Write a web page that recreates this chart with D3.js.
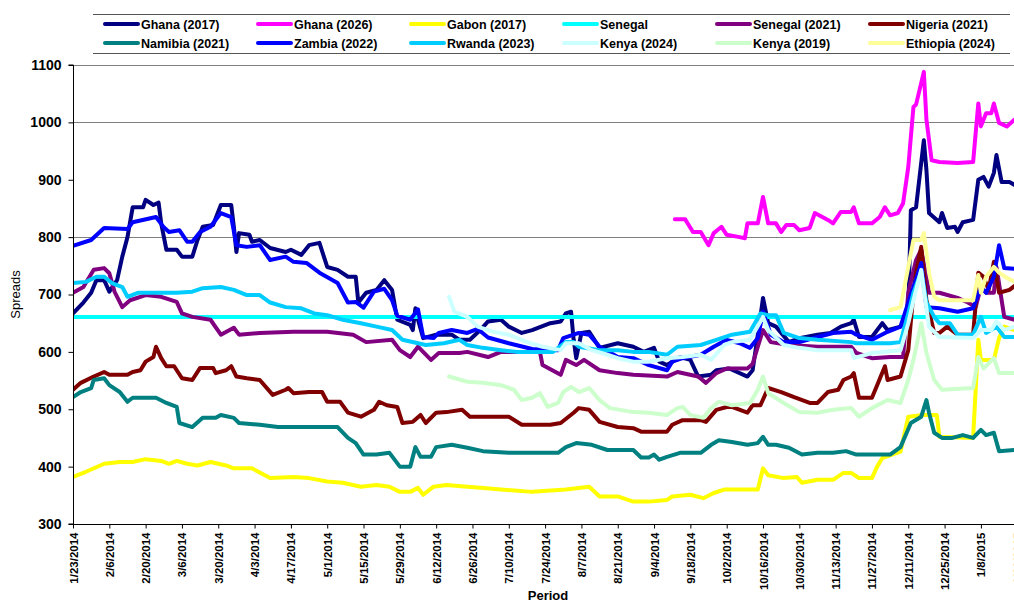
<!DOCTYPE html>
<html>
<head>
<meta charset="utf-8"/>
<title>Spreads</title>
<script src="https://d3js.org/d3.v7.min.js"></script>
<style>
body{margin:0;background:#fff;}
svg{display:block;font-family:"Liberation Sans",Arial,sans-serif;}
</style>
</head>
<body>
<div id="chart"></div>
<script>
// tick labels along the period axis
var xTicks = ["1/23/2014","2/6/2014","2/20/2014","3/6/2014","3/20/2014","4/3/2014","4/17/2014","5/1/2014","5/15/2014","5/29/2014","6/12/2014","6/26/2014","7/10/2014","7/24/2014","8/7/2014","8/21/2014","9/4/2014","9/18/2014","10/2/2014","10/16/2014","10/30/2014","11/13/2014","11/27/2014","12/11/2014","12/25/2014","1/8/2015","1/22/2015"];
var yTicks = [300,400,500,600,700,800,900,1000,1100];
var gridValues = [800,1000,1100];

var ghana2017 = [["2014-01-23",667],["2014-01-27",686],["2014-01-30",703],["2014-02-01",725],["2014-02-04",725],["2014-02-06",705],["2014-02-09",725],["2014-02-11",766],["2014-02-13",800],["2014-02-15",852],["2014-02-19",852],["2014-02-20",865],["2014-02-23",856],["2014-02-25",860],["2014-02-26",824],["2014-02-28",778],["2014-03-04",778],["2014-03-06",766],["2014-03-10",766],["2014-03-12",795],["2014-03-14",818],["2014-03-18",821],["2014-03-21",856],["2014-03-25",856],["2014-03-26",818],["2014-03-27",774],["2014-03-28",807],["2014-04-01",804],["2014-04-02",792],["2014-04-05",795],["2014-04-09",781],["2014-04-15",774],["2014-04-17",778],["2014-04-21",769],["2014-04-24",786],["2014-04-28",790],["2014-05-01",748],["2014-05-05",743],["2014-05-09",731],["2014-05-12",731],["2014-05-13",686],["2014-05-16",703],["2014-05-20",708],["2014-05-23",725],["2014-05-26",708],["2014-05-28",656],["2014-06-02",647],["2014-06-03",638],["2014-06-04",676],["2014-06-05",656],["2014-06-07",624],["2014-06-12",630],["2014-06-18",630],["2014-06-21",621],["2014-06-25",621],["2014-06-29",638],["2014-07-02",653],["2014-07-07",656],["2014-07-10",644],["2014-07-15",633],["2014-07-19",638],["2014-07-26",650],["2014-07-30",653],["2014-08-01",667],["2014-08-03",670],["2014-08-04",621],["2014-08-05",589],["2014-08-07",633],["2014-08-10",635],["2014-08-14",607],["2014-08-21",615],["2014-08-27",609],["2014-08-31",600],["2014-09-04",607],["2014-09-06",583],["2014-09-09",577],["2014-09-14",591],["2014-09-18",586],["2014-09-21",557],["2014-09-26",560],["2014-09-28",568],["2014-10-03",571],["2014-10-10",557],["2014-10-12",568],["2014-10-15",661],["2014-10-16",694],["2014-10-18",650],["2014-10-21",644],["2014-10-26",617],["2014-10-30",624],["2014-11-06",630],["2014-11-11",633],["2014-11-15",644],["2014-11-19",650],["2014-11-20",656],["2014-11-22",626],["2014-11-27",626],["2014-12-01",650],["2014-12-03",638],["2014-12-08",644],["2014-12-11",667],["2014-12-12",847],["2014-12-14",852],["2014-12-17",969],["2014-12-18",917],["2014-12-19",842],["2014-12-23",826],["2014-12-24",842],["2014-12-26",816],["2014-12-29",818],["2014-12-30",809],["2015-01-01",826],["2015-01-05",830],["2015-01-07",900],["2015-01-09",905],["2015-01-11",888],["2015-01-13",912],["2015-01-14",943],["2015-01-16",896],["2015-01-19",896],["2015-01-21",891]];

var ghana2026 = [["2014-09-12",831],["2014-09-16",831],["2014-09-19",809],["2014-09-22",809],["2014-09-25",786],["2014-09-27",807],["2014-09-30",818],["2014-10-02",804],["2014-10-07",800],["2014-10-09",798],["2014-10-10",824],["2014-10-14",824],["2014-10-16",870],["2014-10-18",824],["2014-10-21",824],["2014-10-23",809],["2014-10-25",821],["2014-10-28",821],["2014-10-30",812],["2014-11-03",816],["2014-11-05",842],["2014-11-10",830],["2014-11-12",824],["2014-11-15",844],["2014-11-19",844],["2014-11-20",852],["2014-11-22",824],["2014-11-27",824],["2014-11-30",835],["2014-12-02",852],["2014-12-04",838],["2014-12-07",842],["2014-12-09",859],["2014-12-11",922],["2014-12-13",1027],["2014-12-14",1031],["2014-12-17",1088],["2014-12-18",1005],["2014-12-20",934],["2014-12-23",931],["2014-12-30",929],["2015-01-05",931],["2015-01-07",1033],["2015-01-08",993],["2015-01-10",1016],["2015-01-12",1016],["2015-01-13",1033],["2015-01-15",999],["2015-01-18",993],["2015-01-21",1005]];

var gabon2017 = [["2014-01-23",382],["2014-01-28",391],["2014-02-04",405],["2014-02-10",408],["2014-02-15",408],["2014-02-20",413],["2014-02-26",410],["2014-03-01",405],["2014-03-04",410],["2014-03-08",405],["2014-03-12",402],["2014-03-17",408],["2014-03-23",402],["2014-03-26",397],["2014-04-02",397],["2014-04-09",380],["2014-04-18",382],["2014-04-24",380],["2014-05-01",374],["2014-05-07",372],["2014-05-14",365],["2014-05-20",368],["2014-05-25",365],["2014-05-29",356],["2014-06-02",356],["2014-06-05",363],["2014-06-07",351],["2014-06-11",365],["2014-06-16",368],["2014-06-24",365],["2014-06-29",363],["2014-07-07",360],["2014-07-19",356],["2014-08-01",360],["2014-08-10",365],["2014-08-14",348],["2014-08-21",348],["2014-08-27",339],["2014-09-02",339],["2014-09-09",342],["2014-09-11",348],["2014-09-18",351],["2014-09-23",345],["2014-09-27",354],["2014-10-01",360],["2014-10-14",360],["2014-10-16",397],["2014-10-18",385],["2014-10-24",380],["2014-10-29",382],["2014-10-31",372],["2014-11-06",377],["2014-11-12",377],["2014-11-16",389],["2014-11-19",389],["2014-11-22",380],["2014-11-27",380],["2014-11-29",400],["2014-12-01",415],["2014-12-08",426],["2014-12-11",487],["2014-12-17",490],["2014-12-22",490],["2014-12-23",452],["2015-01-05",450],["2015-01-07",621],["2015-01-08",586],["2015-01-13",586],["2015-01-15",624],["2015-01-17",644],["2015-01-21",638]];

var senegal = [["2014-01-23",661],["2015-01-21",661]];

var senegal2021 = [["2014-01-23",703],["2014-01-27",713],["2014-01-31",743],["2014-02-04",746],["2014-02-06",737],["2014-02-08",705],["2014-02-11",678],["2014-02-14",690],["2014-02-20",699],["2014-02-26",696],["2014-03-04",687],["2014-03-06",667],["2014-03-10",661],["2014-03-17",656],["2014-03-21",630],["2014-03-26",642],["2014-03-28",630],["2014-04-05",633],["2014-04-18",635],["2014-05-01",635],["2014-05-11",630],["2014-05-16",617],["2014-05-26",621],["2014-05-29",603],["2014-06-02",591],["2014-06-05",609],["2014-06-10",586],["2014-06-13",598],["2014-06-21",598],["2014-06-24",600],["2014-07-02",591],["2014-07-07",600],["2014-07-22",600],["2014-07-23",577],["2014-07-30",560],["2014-08-01",586],["2014-08-05",577],["2014-08-08",586],["2014-08-14",568],["2014-08-21",563],["2014-08-27",560],["2014-09-09",557],["2014-09-13",565],["2014-09-21",557],["2014-09-24",546],["2014-09-28",563],["2014-10-02",571],["2014-10-10",571],["2014-10-12",579],["2014-10-14",609],["2014-10-16",638],["2014-10-19",617],["2014-10-26",612],["2014-11-06",609],["2014-11-19",609],["2014-11-21",598],["2014-11-27",589],["2014-12-04",591],["2014-12-09",591],["2014-12-11",703],["2014-12-14",760],["2014-12-16",778],["2014-12-18",731],["2014-12-19",703],["2014-12-23",703],["2014-12-30",694],["2015-01-03",686],["2015-01-06",678],["2015-01-08",713],["2015-01-10",703],["2015-01-13",703],["2015-01-14",748],["2015-01-17",661],["2015-01-21",656]];

var nigeria2021 = [["2014-01-23",534],["2014-01-26",546],["2014-01-31",557],["2014-02-04",565],["2014-02-06",560],["2014-02-13",560],["2014-02-15",565],["2014-02-18",568],["2014-02-20",583],["2014-02-23",591],["2014-02-24",609],["2014-02-26",589],["2014-02-28",575],["2014-03-03",575],["2014-03-06",554],["2014-03-10",551],["2014-03-13",572],["2014-03-18",572],["2014-03-19",563],["2014-03-23",568],["2014-03-25",575],["2014-03-27",557],["2014-03-31",554],["2014-04-05",551],["2014-04-10",525],["2014-04-15",534],["2014-04-16",537],["2014-04-18",528],["2014-04-24",530],["2014-04-29",530],["2014-05-01",513],["2014-05-06",513],["2014-05-09",494],["2014-05-14",487],["2014-05-19",499],["2014-05-21",513],["2014-05-24",507],["2014-05-28",504],["2014-05-30",476],["2014-06-03",478],["2014-06-06",490],["2014-06-08",476],["2014-06-12",494],["2014-06-16",495],["2014-06-22",499],["2014-06-25",487],["2014-07-10",487],["2014-07-15",473],["2014-07-26",473],["2014-07-30",476],["2014-08-04",494],["2014-08-06",502],["2014-08-10",499],["2014-08-14",478],["2014-08-21",469],["2014-08-27",467],["2014-08-30",461],["2014-09-09",461],["2014-09-11",473],["2014-09-15",481],["2014-09-22",481],["2014-09-24",478],["2014-09-28",499],["2014-10-02",504],["2014-10-04",504],["2014-10-10",494],["2014-10-12",507],["2014-10-15",507],["2014-10-18",537],["2014-10-23",530],["2014-10-28",521],["2014-11-03",511],["2014-11-06",511],["2014-11-10",530],["2014-11-14",534],["2014-11-16",551],["2014-11-19",557],["2014-11-20",563],["2014-11-22",520],["2014-11-27",520],["2014-11-29",542],["2014-12-02",575],["2014-12-03",551],["2014-12-08",557],["2014-12-11",603],["2014-12-13",703],["2014-12-14",738],["2014-12-16",783],["2014-12-18",690],["2014-12-21",633],["2014-12-23",633],["2014-12-26",644],["2014-12-30",630],["2015-01-05",630],["2015-01-07",738],["2015-01-09",731],["2015-01-11",708],["2015-01-13",757],["2015-01-15",703],["2015-01-19",708],["2015-01-21",715]];

var namibia2021 = [["2014-01-23",521],["2014-01-26",530],["2014-01-30",537],["2014-01-31",551],["2014-02-04",554],["2014-02-06",542],["2014-02-10",530],["2014-02-13",513],["2014-02-15",520],["2014-02-24",520],["2014-02-28",511],["2014-03-04",504],["2014-03-05",476],["2014-03-10",469],["2014-03-14",485],["2014-03-19",485],["2014-03-21",490],["2014-03-26",485],["2014-03-28",476],["2014-04-05",473],["2014-04-12",469],["2014-05-05",469],["2014-05-09",450],["2014-05-12",441],["2014-05-15",421],["2014-05-20",421],["2014-05-25",424],["2014-05-29",400],["2014-06-02",400],["2014-06-04",434],["2014-06-06",417],["2014-06-10",417],["2014-06-12",434],["2014-06-18",438],["2014-06-24",433],["2014-06-30",427],["2014-07-10",424],["2014-07-29",424],["2014-08-01",434],["2014-08-05",441],["2014-08-11",438],["2014-08-17",429],["2014-08-27",429],["2014-08-30",416],["2014-09-02",416],["2014-09-04",421],["2014-09-06",412],["2014-09-09",417],["2014-09-14",424],["2014-09-22",424],["2014-09-26",438],["2014-09-29",446],["2014-10-04",443],["2014-10-10",438],["2014-10-14",441],["2014-10-16",452],["2014-10-18",438],["2014-10-21",438],["2014-10-26",433],["2014-10-31",421],["2014-11-06",424],["2014-11-12",424],["2014-11-17",427],["2014-11-21",421],["2014-12-04",421],["2014-12-08",434],["2014-12-12",476],["2014-12-16",487],["2014-12-18",516],["2014-12-19",494],["2014-12-21",459],["2014-12-24",450],["2014-12-28",450],["2015-01-01",455],["2015-01-05",450],["2015-01-08",464],["2015-01-10",455],["2015-01-13",459],["2015-01-15",427],["2015-01-21",429]];

var zambia2022 = [["2014-01-23",785],["2014-01-30",795],["2014-02-04",816],["2014-02-13",814],["2014-02-15",826],["2014-02-24",835],["2014-02-27",817],["2014-03-01",809],["2014-03-05",812],["2014-03-08",792],["2014-03-10",792],["2014-03-13",809],["2014-03-17",818],["2014-03-21",842],["2014-03-25",835],["2014-03-27",786],["2014-03-31",783],["2014-04-05",786],["2014-04-09",760],["2014-04-15",766],["2014-04-18",757],["2014-04-23",755],["2014-04-28",738],["2014-05-05",720],["2014-05-09",686],["2014-05-12",687],["2014-05-15",677],["2014-05-19",705],["2014-05-23",710],["2014-05-26",690],["2014-05-28",663],["2014-06-02",656],["2014-06-05",674],["2014-06-07",626],["2014-06-11",624],["2014-06-13",633],["2014-06-18",638],["2014-06-24",633],["2014-06-28",640],["2014-07-02",625],["2014-07-10",615],["2014-07-19",605],["2014-07-29",603],["2014-07-31",624],["2014-08-06",633],["2014-08-10",630],["2014-08-14",609],["2014-08-21",591],["2014-08-27",589],["2014-09-02",577],["2014-09-09",568],["2014-09-11",583],["2014-09-15",589],["2014-09-22",595],["2014-09-27",609],["2014-10-02",621],["2014-10-07",615],["2014-10-11",607],["2014-10-14",624],["2014-10-16",670],["2014-10-19",630],["2014-10-24",617],["2014-10-30",617],["2014-11-06",626],["2014-11-12",633],["2014-11-19",635],["2014-11-21",630],["2014-11-27",621],["2014-12-03",635],["2014-12-08",644],["2014-12-11",686],["2014-12-13",713],["2014-12-16",755],["2014-12-18",678],["2014-12-23",676],["2014-12-30",670],["2015-01-05",676],["2015-01-08",713],["2015-01-10",703],["2015-01-13",731],["2015-01-15",786],["2015-01-17",746],["2015-01-21",745]];

var rwanda2023 = [["2014-01-23",720],["2014-01-28",722],["2014-02-01",731],["2014-02-04",731],["2014-02-07",720],["2014-02-11",713],["2014-02-13",696],["2014-02-17",703],["2014-03-04",703],["2014-03-10",705],["2014-03-14",711],["2014-03-21",713],["2014-03-26",708],["2014-03-31",699],["2014-04-05",699],["2014-04-09",686],["2014-04-15",678],["2014-04-21",676],["2014-04-26",667],["2014-05-01",664],["2014-05-07",656],["2014-05-14",650],["2014-05-20",644],["2014-05-26",638],["2014-05-30",621],["2014-06-08",612],["2014-06-15",615],["2014-06-21",621],["2014-06-24",612],["2014-06-30",607],["2014-07-07",603],["2014-07-13",600],["2014-07-27",600],["2014-08-01",617],["2014-08-04",617],["2014-08-06",609],["2014-08-14",603],["2014-08-21",603],["2014-08-27",600],["2014-09-02",600],["2014-09-09",595],["2014-09-13",609],["2014-09-22",612],["2014-09-28",621],["2014-10-04",630],["2014-10-11",635],["2014-10-15",667],["2014-10-18",664],["2014-10-21",664],["2014-10-24",633],["2014-10-30",624],["2014-11-06",621],["2014-11-19",617],["2014-11-21",615],["2014-12-04",615],["2014-12-08",617],["2014-12-11",667],["2014-12-13",703],["2014-12-16",740],["2014-12-18",686],["2014-12-21",661],["2014-12-23",650],["2014-12-27",650],["2014-12-30",630],["2015-01-05",630],["2015-01-08",661],["2015-01-10",633],["2015-01-14",644],["2015-01-17",626],["2015-01-21",626]];

var kenya2024 = [["2014-06-17",696],["2014-06-19",670],["2014-06-24",661],["2014-06-28",644],["2014-07-04",635],["2014-07-10",630],["2014-07-17",617],["2014-07-23",609],["2014-07-30",603],["2014-08-01",615],["2014-08-06",615],["2014-08-11",603],["2014-08-17",595],["2014-08-21",589],["2014-08-27",583],["2014-09-02",583],["2014-09-09",589],["2014-09-15",591],["2014-09-22",595],["2014-09-26",586],["2014-10-01",612],["2014-10-04",617],["2014-10-11",621],["2014-10-16",661],["2014-10-18",638],["2014-10-24",612],["2014-10-30",607],["2014-11-06",603],["2014-11-19",603],["2014-11-20",589],["2014-11-27",598],["2014-12-08",603],["2014-12-11",650],["2014-12-13",690],["2014-12-16",743],["2014-12-17",708],["2014-12-19",644],["2014-12-23",626],["2015-01-05",624],["2015-01-08",638],["2015-01-12",638],["2015-01-14",653],["2015-01-17",638],["2015-01-21",644]];

var kenya2019 = [["2014-06-17",557],["2014-06-24",548],["2014-06-30",546],["2014-07-07",542],["2014-07-12",534],["2014-07-15",516],["2014-07-19",520],["2014-07-22",528],["2014-07-25",504],["2014-07-29",511],["2014-07-31",530],["2014-08-03",539],["2014-08-06",530],["2014-08-10",537],["2014-08-14",516],["2014-08-18",502],["2014-08-27",495],["2014-09-02",494],["2014-09-09",490],["2014-09-13",502],["2014-09-15",504],["2014-09-18",490],["2014-09-23",485],["2014-09-26",502],["2014-09-29",513],["2014-10-04",507],["2014-10-11",511],["2014-10-14",534],["2014-10-16",557],["2014-10-18",528],["2014-10-24",511],["2014-10-30",495],["2014-11-06",494],["2014-11-12",499],["2014-11-19",502],["2014-11-22",487],["2014-11-27",502],["2014-12-03",516],["2014-12-08",511],["2014-12-11",551],["2014-12-13",586],["2014-12-16",650],["2014-12-18",598],["2014-12-21",551],["2014-12-24",534],["2015-01-05",537],["2015-01-07",591],["2015-01-09",571],["2015-01-13",589],["2015-01-15",563],["2015-01-21",563]];

var ethiopia2024 = [["2014-12-04",673],["2014-12-08",678],["2014-12-11",748],["2014-12-13",795],["2014-12-16",795],["2014-12-17",807],["2014-12-19",738],["2014-12-21",696],["2014-12-23",690],["2015-01-05",690],["2015-01-07",734],["2015-01-08",703],["2015-01-10",731],["2015-01-13",748],["2015-01-15",738],["2015-01-18",729],["2015-01-21",722]];

var seriesNames = ["Ghana (2017)","Ghana (2026)","Gabon (2017)","Senegal","Senegal (2021)","Nigeria (2021)","Namibia (2021)","Zambia (2022)","Rwanda (2023)","Kenya (2024)","Kenya (2019)","Ethiopia (2024)"];
var seriesData = [ghana2017, ghana2026, gabon2017, senegal, senegal2021, nigeria2021, namibia2021, zambia2022, rwanda2023, kenya2024, kenya2019, ethiopia2024];
var colors = ["#000080","#ff00ff","#ffff00","#00ffff","#800080","#800000","#008080","#0000ff","#00ccff","#ccffff","#ccffcc","#ffff99"];

var width = 1014, height = 604;
var margin = {left: 73, top: 65, bottom: 80};
var parseDay = d3.timeParse("%Y-%m-%d");
var parseTick = d3.timeParse("%m/%d/%Y");
var fmtTick = d3.timeFormat("%-m/%-d/%Y");

var svg = d3.select("#chart").append("svg")
	.attr("width", width)
	.attr("height", height);

var x = d3.scaleTime()
	.domain([parseTick(xTicks[0]), parseTick(xTicks[xTicks.length-1])])
	.range([margin.left, margin.left + 364*2.594]);

var y = d3.scaleLinear()
	.domain([300, 1100])
	.range([height - margin.bottom, margin.top]);

// gridlines
svg.append("g").selectAll("line")
	.data(gridValues)
	.enter().append("line")
	.attr("x1", margin.left).attr("x2", width)
	.attr("y1", function(d){ return Math.round(y(d)) + 0.5; })
	.attr("y2", function(d){ return Math.round(y(d)) + 0.5; })
	.attr("stroke", "#7f7f7f")
	.attr("stroke-width", 1);

svg.append("clipPath").attr("id", "plotclip")
	.append("rect")
	.attr("x", margin.left).attr("y", margin.top - 10)
	.attr("width", width - margin.left).attr("height", height - margin.bottom - margin.top + 10);

var line = d3.line()
	.x(function(d){ return x(parseDay(d[0])); })
	.y(function(d){ return y(d[1]); });

var plot = svg.append("g").attr("clip-path", "url(#plotclip)");
seriesData.forEach(function(s, i){
	plot.append("path")
		.datum(s)
		.attr("d", line)
		.attr("fill", "none")
		.attr("stroke", colors[i])
		.attr("stroke-width", 4)
		.attr("stroke-linejoin", "round")
		.attr("stroke-linecap", "round");
});

// axes
var yAxis = d3.axisLeft(y).tickValues(yTicks).tickSize(5).tickPadding(7).tickFormat(d3.format("d"));
var gy = svg.append("g")
	.attr("transform", "translate(" + (margin.left + 0.5) + ",0)")
	.call(yAxis);
gy.select(".domain").attr("stroke", "#000").attr("d", "M-5," + y(1100) + "H0V" + y(300) + "H-5");
gy.selectAll("text").style("font-size", "14px").style("font-weight", "bold").attr("fill", "#000");

var xAxis = d3.axisBottom(x).tickValues(xTicks.map(parseTick)).tickSize(4).tickFormat(fmtTick);
var gx = svg.append("g")
	.attr("transform", "translate(0," + (height - margin.bottom + 0.5) + ")")
	.call(xAxis);
gx.select(".domain").attr("stroke", "#000").attr("d", "M" + margin.left + ",0H" + width);
gx.selectAll("text")
	.attr("transform", "rotate(-90)")
	.attr("x", -8).attr("y", 0).attr("dy", "0.35em")
	.style("text-anchor", "end")
	.style("font-size", "11.5px").style("font-weight", "bold").attr("fill", "#000");

svg.append("text")
	.attr("transform", "translate(20," + ((y(300) + y(1100)) / 2) + ") rotate(-90)")
	.attr("text-anchor", "middle")
	.style("font-size", "13px")
	.text("Spreads");

svg.append("text")
	.attr("x", 548).attr("y", 600)
	.attr("text-anchor", "middle")
	.style("font-size", "13px").style("font-weight", "bold")
	.text("Period");

// legend
var legend = svg.append("g");
legend.append("line").attr("x1", 93).attr("x2", 1010).attr("y1", 14.5).attr("y2", 14.5).attr("stroke", "#555");
legend.append("line").attr("x1", 93).attr("x2", 1010).attr("y1", 53.5).attr("y2", 53.5).attr("stroke", "#555");
var colX = [105, 258, 411, 564, 717, 870];
seriesNames.forEach(function(name, i){
	var cx = colX[i % 6], cy = i < 6 ? 24 : 43;
	legend.append("line")
		.attr("x1", cx).attr("x2", cx + 33)
		.attr("y1", cy).attr("y2", cy)
		.attr("stroke", colors[i]).attr("stroke-width", 4).attr("stroke-linecap", "round");
	legend.append("text")
		.attr("x", cx + 36).attr("y", cy).attr("dy", "0.36em")
		.style("font-size", "12.5px").style("font-weight", "bold")
		.text(name);
});
</script>
</body>
</html>
